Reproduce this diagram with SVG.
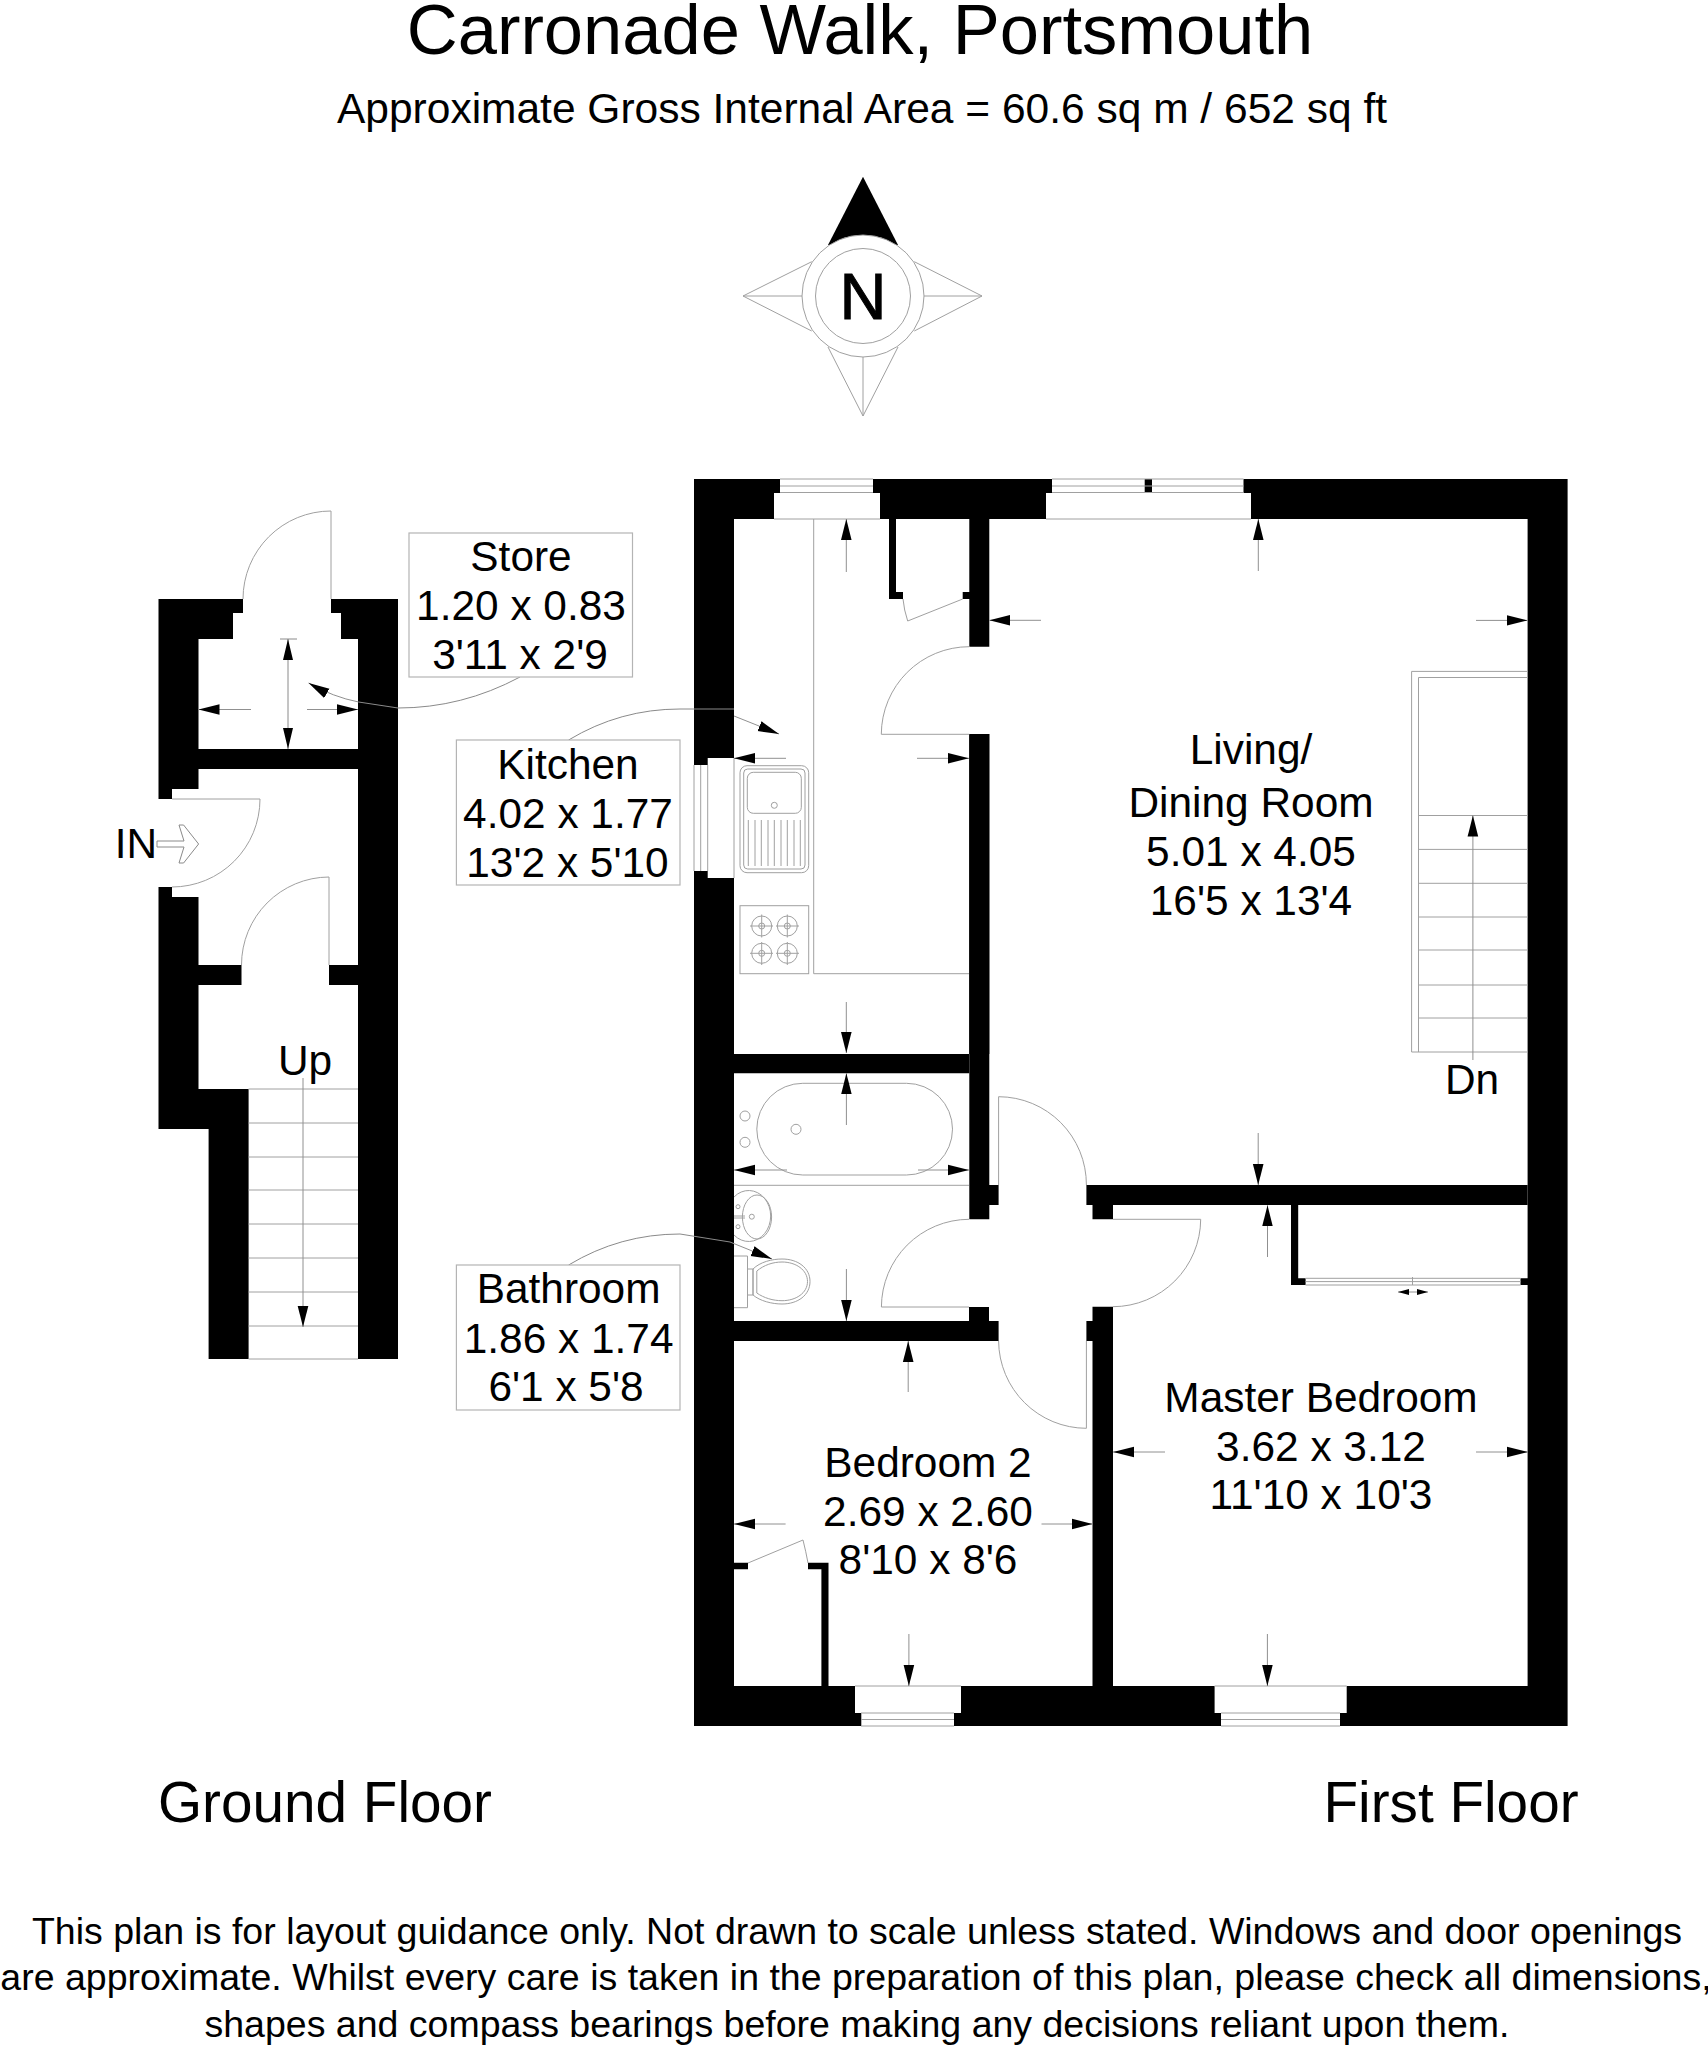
<svg xmlns="http://www.w3.org/2000/svg" width="1708" height="2048" viewBox="0 0 1708 2048">
<style>
text{font-family:"Liberation Sans",Arial,sans-serif;fill:#000;text-anchor:middle}
.r{font-size:42.4px}
.t{fill:none;stroke:#a0a0a0;stroke-width:1}
.d{fill:none;stroke:#8a8a8a;stroke-width:1}
.a{fill:none;stroke:#909090;stroke-width:1;marker-end:url(#ah)}
.b{fill:#fff;stroke:#b4b4b4;stroke-width:1.2}
.w{fill:#000;stroke:none}
.f{font-size:37.5px}
</style>
<defs>
<marker id="ah" markerWidth="22" markerHeight="12" refX="21" refY="6" orient="auto" markerUnits="userSpaceOnUse"><path d="M0 .7L21 6L0 11.3Z" fill="#000"/></marker>
</defs>
<rect width="1708" height="2048" fill="#fff"/>
<g id="title">
<text x="860" y="54" font-size="70.5">Carronade Walk, Portsmouth</text>
<text x="862" y="122.5" font-size="42.5">Approximate Gross Internal Area = 60.6 sq m / 652 sq ft</text>
</g>
<g id="compass">
<path d="M863 176.7L828 245H898Z" class="w"/>
<path d="M828 347L863 416L898 347M863 357V416M811.7 261.7L743 296L811.7 331M802 296H743M914.3 261.7L982 296L914.3 331M924 296H982" class="t"/>
<circle cx="863" cy="296" r="61" fill="#fff" stroke="#a0a0a0"/>
<circle cx="863" cy="296" r="47.5" fill="#fff" stroke="#a0a0a0"/>
<text x="863" y="319" font-size="65" stroke="#000" stroke-width="1">N</text>
</g>
<g id="ground-floor">
<path class="w" d="M158.5 599H243V613H233V639H198.5V789H172V799H158.5ZM198.5 749H358V769H198.5ZM331 599H398V1359H358V639H341V613H331ZM158.5 887H172V897H198.5V965H241.5V985H198.5V1089H248.6V1359H208.6V1129H158.5ZM329 965H358V985H329Z"/>
<g id="ground-stairs">
<path class="t" d="M248.6 1089H358M248.6 1123H358M248.6 1157H358M248.6 1190H358M248.6 1224H358M248.6 1258H358M248.6 1292H358M248.6 1326H358M248.6 1359H358"/>
<path class="a" d="M303 1078V1327"/>
<text class="r" x="305" y="1075">Up</text>
</g>
<g id="ground-doors">
<path class="t" d="M243 599A88 88 0 0 1 331 511V599"/>
<path class="t" d="M172 799H260A88 88 0 0 1 172 887"/>
<path class="t" d="M329 965V877A88 88 0 0 0 241.5 965"/>
</g>
<path id="in-arrow" class="d" d="M157 841H184L179 825H183.6L198.6 844L183.6 863H179L184 847H157Z"/>
<text class="r" x="136" y="858">IN</text>
<path class="a" d="M251 709.5H198.5"/>
<path class="a" d="M307 709.5H358"/>
<path class="d" d="M288 639V749M280 639H297"/>
<path d="M288 639L283 660H293ZM288 749L283 728H293Z"/>
</g>
<g id="first-floor">
<path class="w" d="M694 479H780V493H774V519H734V758H707.7V765H694ZM873 479H1052V493H1046V519H880V493H873ZM1144.7 479H1152V493H1144.7ZM1243.5 479H1567.6V1726H1340V1713H1346.7V1686H1527.6V519H1251V493H1243.5ZM694 871H707.7V878H734V1054H989.3V734H969.3V1073.3H734V1321H969V1307H989V1321H998.6V1341H734V1686H855V1713H861.3V1726H694Z"/>
<path class="w" d="M969.3 519H989.3V646.7H969.3V599H962.7V592H969.3ZM889 519H896V592H903V599H889ZM969.3 734H989.3V1185H998.6V1205H989.3V1219.3H969.3ZM1086.4 1185H1527.6V1205H1113V1219.3H1092.5V1205H1086.4ZM1092.5 1306.7H1113V1686H1092.5V1341H1086.4V1321H1092.5ZM961 1686H1214.6V1713H1221V1726H954V1713H961ZM734 1562.7H748V1569.3H734ZM808 1562.7H828.5V1686H821.4V1569.3H808ZM1291 1205H1298.2V1278.3H1305.6V1285H1291ZM1520.5 1278.3H1528V1285H1520.5Z"/>
<g id="windows">
<path class="t" d="M780 479H873M780 486H873M780 492.5H873M774 519H880M1052 479H1243.5M1052 486H1243.5M1052 492.5H1243.5M1046 519H1251M694 765V871M700.7 765V871M707.7 765V871M734 758V878M855 1686H961M861 1713H954M861 1719.5H954M861 1726H954M1214.6 1686H1346.7M1221 1713H1340M1221 1719.5H1340M1221 1726H1340"/>
</g>
<g id="first-doors">
<path class="t" d="M969.3 646.7A88 88 0 0 0 881.3 734.3H969.3"/>
<path class="t" d="M962.7 599L907.7 621Q904 610 903 599"/>
<path class="t" d="M969 1219.3A88 88 0 0 0 881.4 1307H969"/>
<path class="t" d="M998.6 1185V1096.7A88 88 0 0 1 1086.4 1185"/>
<path class="t" d="M1113 1219.3H1200.7A88 88 0 0 1 1113 1306.7"/>
<path class="t" d="M998.6 1341A88 88 0 0 0 1086.4 1428.3V1341"/>
<path class="t" d="M748 1563L803 1540Q806 1552 808 1563"/>
<path class="t" d="M1305.6 1278.3H1520.5M1305.6 1281.6H1520.5M1305.6 1285H1520.5M1412.5 1277V1285"/>
</g>
<g id="kitchen-fittings">
<path class="t" d="M813.7 519V973.7H969"/>
<rect class="t" x="740" y="765.7" width="68.7" height="107" rx="7"/>
<rect class="t" x="743.7" y="769" width="61.3" height="100" rx="4"/>
<rect class="t" x="747.3" y="772.3" width="54" height="41" rx="6"/>
<circle class="t" cx="774.3" cy="805.3" r="3"/>
<path class="t" d="M748.3 820V866M755 820V866M761.3 820V866M768 820V866M774.3 820V866M781 820V866M787.3 820V866M794 820V866M800.3 820V866"/>
<rect class="t" x="740" y="905.7" width="68.7" height="68"/>
<g class="t">
<circle cx="761.7" cy="926" r="10"/><circle cx="761.7" cy="926" r="3"/>
<circle cx="787.3" cy="926" r="10"/><circle cx="787.3" cy="926" r="3"/>
<circle cx="761.7" cy="953.3" r="10"/><circle cx="761.7" cy="953.3" r="3"/>
<circle cx="787.3" cy="953.3" r="10"/><circle cx="787.3" cy="953.3" r="3"/>
<path d="M750 926H773M761.7 914.5V937.5M776 926H799M787.3 914.5V937.5M750 953.3H773M761.7 942V965M776 953.3H799M787.3 942V965"/>
</g>
</g>
<g id="bathroom-fittings">
<rect class="t" x="756.8" y="1083.3" width="195.7" height="91.7" rx="46"/>
<circle class="t" cx="745" cy="1116" r="5"/><circle class="t" cx="745" cy="1142.3" r="5"/><circle class="t" cx="796" cy="1129.3" r="5"/>
<path class="t" d="M734 1185.3H969"/>
<path class="t" d="M734 1197A22 25.5 0 1 1 734 1235"/>
<ellipse class="t" cx="757" cy="1217" rx="14.6" ry="22"/>
<circle class="t" cx="738" cy="1206.7" r="2"/><circle class="t" cx="738" cy="1226.7" r="2"/><circle class="t" cx="751.8" cy="1216.7" r="2.5"/>
<path class="t" d="M734 1216H745M734 1218H745"/>
<path class="t" d="M734 1256H747.5V1307.7H734M747.5 1269H753V1295H747.5"/>
<path class="t" d="M753 1269C760 1262 772 1259 782 1259C798 1259 810 1268 810 1281.5C810 1295 798 1304 782 1304C772 1304 760 1301 753 1295Z"/>
<path class="t" d="M756.8 1271C764 1265 773 1262 782 1262C796 1262 807.5 1270 807.5 1281.5C807.5 1293 796 1300.7 782 1300.7C773 1300.7 764 1298 756.8 1293Z"/>
</g>
<g id="living-stairs">
<path class="t" d="M1527.6 671.4H1411.6V1052H1527.6M1527.6 677.5H1418.5V1052M1418.5 815.5H1527.6M1418.5 849.4H1527.6M1418.5 883.3H1527.6M1418.5 917H1527.6M1418.5 950H1527.6M1418.5 985H1527.6M1418.5 1018H1527.6"/>
<path class="a" d="M1472.9 1060V815.5"/>
<text class="r" x="1472" y="1094">Dn</text>
</g>
<g id="dimension-arrows">
<path class="a" d="M846.3 572V519"/>
<path class="a" d="M786 758.3H734"/>
<path class="a" d="M917 758.3H969"/>
<path class="a" d="M1041 620.3H989.3"/>
<path class="a" d="M846.3 1002V1053"/>
<path class="a" d="M846.4 1125V1073.3"/>
<path class="a" d="M787 1170H734"/>
<path class="a" d="M918 1170H969"/>
<path class="a" d="M846.4 1269V1321"/>
<path class="a" d="M908.2 1392V1341"/>
<path class="a" d="M785.6 1524H734"/>
<path class="a" d="M1041.5 1524H1092.5"/>
<path class="a" d="M1165 1452H1113"/>
<path class="a" d="M1476 1452H1528"/>
<path class="a" d="M908.9 1634V1686"/>
<path class="a" d="M1267.4 1634V1686"/>
<path class="a" d="M1258.3 571V519"/>
<path class="a" d="M1476 620.4H1527.6"/>
<path class="a" d="M1258.2 1133V1185"/>
<path class="a" d="M1267.5 1257V1205.3"/>
<path d="M1398 1292H1428" fill="none" stroke="#909090"/>
<path d="M1409 1289L1398 1292L1409 1295ZM1417 1289L1428 1292L1417 1295Z"/>
</g>
</g>
<g id="connectors">
<path class="d" d="M520 677Q462 708 398 708L358.6 702"/>
<path class="a" d="M358.6 702Q333 697 308.6 683"/>
<path class="d" d="M568.6 740Q620 709 680 709H734"/>
<path class="a" d="M734 716L779 734"/>
<path class="d" d="M568.6 1265Q620 1234 680 1234L730 1242"/>
<path class="a" d="M730 1242L772 1259"/>
</g>
<g id="store-label">
<rect class="b" x="409" y="533" width="223.5" height="144"/>
<text class="r" x="521" y="571">Store</text>
<text class="r" x="521" y="620">1.20 x 0.83</text>
<text class="r" x="520" y="669">3'11 x 2'9</text>
</g>
<g id="kitchen-label">
<rect class="b" x="456.4" y="740" width="223.6" height="145"/>
<text class="r" x="568" y="779">Kitchen</text>
<text class="r" x="568" y="828">4.02 x 1.77</text>
<text class="r" x="567.5" y="877">13'2 x 5'10</text>
</g>
<g id="bathroom-label">
<rect class="b" x="456.4" y="1265" width="223.6" height="145"/>
<text class="r" x="568.6" y="1303">Bathroom</text>
<text class="r" x="568.6" y="1353">1.86 x 1.74</text>
<text class="r" x="566" y="1401">6'1 x 5'8</text>
</g>
<g id="living-label">
<text class="r" x="1251" y="764">Living/</text>
<text class="r" x="1251" y="817">Dining Room</text>
<text class="r" x="1251" y="866">5.01 x 4.05</text>
<text class="r" x="1251" y="915">16'5 x 13'4</text>
</g>
<g id="bedroom2-label">
<text class="r" x="928" y="1477">Bedroom 2</text>
<text class="r" x="928" y="1526">2.69 x 2.60</text>
<text class="r" x="928" y="1574">8'10 x 8'6</text>
</g>
<g id="master-label">
<text class="r" x="1321" y="1412">Master Bedroom</text>
<text class="r" x="1321" y="1461">3.62 x 3.12</text>
<text class="r" x="1321" y="1509">11'10 x 10'3</text>
</g>
<g id="floor-labels">
<text x="325" y="1822" font-size="56.7">Ground Floor</text>
<text x="1451" y="1822" font-size="56.7">First Floor</text>
</g>
<g id="disclaimer">
<text class="f" x="857" y="1944">This plan is for layout guidance only. Not drawn to scale unless stated. Windows and door openings</text>
<text class="f" x="856" y="1990">are approximate. Whilst every care is taken in the preparation of this plan, please check all dimensions,</text>
<text class="f" x="857" y="2037">shapes and compass bearings before making any decisions reliant upon them.</text>
</g>
</svg>
